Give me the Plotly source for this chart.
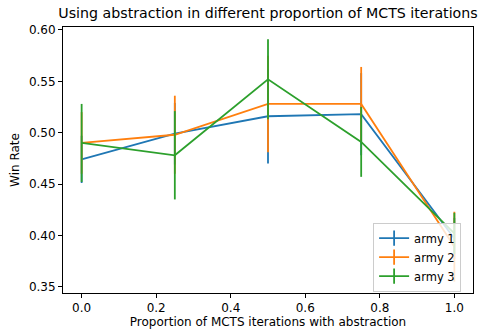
import plotly.graph_objects as go

proportions = [0.0, 0.25, 0.5, 0.75, 1.0]
army1 = [0.474, 0.499, 0.516, 0.518, 0.397]
army1_err = [0.023, 0.030, 0.046, 0.040, 0.020]
army2 = [0.490, 0.498, 0.528, 0.528, 0.389]
army2_err = [0.030, 0.038, 0.047, 0.036, 0.034]
army3 = [0.490, 0.478, 0.552, 0.491, 0.402]
army3_err = [0.038, 0.043, 0.039, 0.034, 0.020]
names = ["army 1", "army 2", "army 3"]
colors = ["#1f77b4", "#ff7f0e", "#2ca02c"]
xticks = [0.0, 0.2, 0.4, 0.6, 0.8, 1.0]
yticks = [0.35, 0.40, 0.45, 0.50, 0.55, 0.60]

FONT = "DejaVu Sans"
FS = 12
W, H = 487, 332
fig = go.Figure()
for vals, errs, name, c in zip([army1, army2, army3], [army1_err, army2_err, army3_err], names, colors):
    fig.add_trace(go.Scatter(
        x=proportions, y=vals, mode="lines", name=name, showlegend=False,
        line=dict(color=c, width=1.8),
        error_y=dict(type="data", array=errs, visible=True, color=c, thickness=1.8, width=0),
    ))
for name, c in zip(names, colors):
    fig.add_trace(go.Scatter(
        x=[None], y=[None], mode="lines+markers", name=name, showlegend=True,
        line=dict(color=c, width=1.8),
        marker=dict(symbol="line-ns-open", size=11, color=c, line=dict(color=c, width=1.8)),
    ))

axis_common = dict(
    showgrid=False, zeroline=False, showline=True, linecolor="black", linewidth=1,
    mirror=True, ticks="outside", ticklen=4, tickwidth=1, tickcolor="black",
    tickfont=dict(family=FONT, size=FS, color="black"), automargin=False,
)
fig.update_layout(
    width=W, height=H,
    margin=dict(l=63, r=14, t=27, b=39),
    paper_bgcolor="white", plot_bgcolor="white",
    font=dict(family=FONT, size=FS, color="black"),
    title=dict(text="Using abstraction in different proportion of MCTS iterations",
               x=(63 + 473) / 2 / W, xanchor="center",
               y=1 - 13 / H, yanchor="middle",
               font=dict(family=FONT, size=14.2, color="black")),
    xaxis=dict(range=[-0.05, 1.05], tickvals=xticks, tickformat=".1f",
               title=dict(text="Proportion of MCTS iterations with abstraction", standoff=2,
                          font=dict(family=FONT, size=FS)),
               **axis_common),
    yaxis=dict(range=[0.3439, 0.6029], tickvals=yticks, tickformat=".2f",
               title=dict(text="Win Rate", standoff=6, font=dict(family=FONT, size=FS)),
               **axis_common),
    legend=dict(x=0.971, y=0.005, xanchor="right", yanchor="bottom",
                bgcolor="rgba(255,255,255,0.8)", bordercolor="#cccccc", borderwidth=1,
                font=dict(family=FONT, size=11.5, color="black"),
                tracegroupgap=0, itemwidth=30),
    showlegend=True,
)
fig.write_html("out.html", config={"displayModeBar": False},
               post_script="document.body.style.margin='0px';")
